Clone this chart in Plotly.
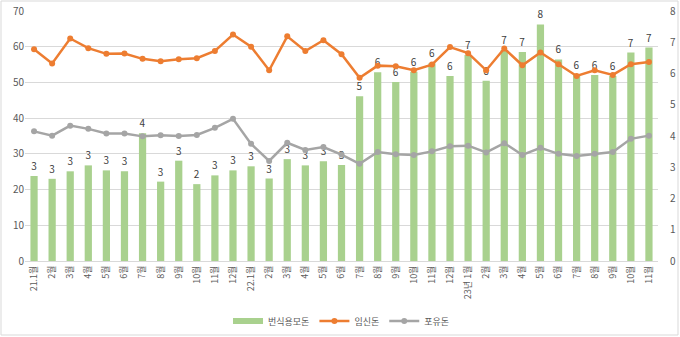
import plotly.graph_objects as go

categories = (["21.1월"] + [f"{m}월" for m in range(2, 13)] +
              ["22.1월"] + [f"{m}월" for m in range(2, 13)] +
              ["23년 1월"] + [f"{m}월" for m in range(2, 12)])

sows_breeding = [2.72, 2.63, 2.87, 3.06, 2.90, 2.87, 4.09, 2.54, 3.21, 2.46, 2.74, 2.90,
                 3.03, 2.64, 3.26, 3.06, 3.19, 3.07, 5.27, 6.04, 5.73, 6.06, 6.33, 5.92,
                 6.59, 5.77, 6.75, 6.69, 7.57, 6.45, 5.95, 5.95, 5.92, 6.67, 6.83]

pregnant = [59.3, 55.3, 62.3, 59.6, 58.0, 58.1, 56.6, 55.9, 56.5, 56.8, 58.8, 63.4,
            60.0, 53.4, 62.9, 58.8, 61.8, 57.9, 51.3, 54.7, 54.5, 53.4, 55.0, 59.9,
            58.2, 53.4, 59.5, 54.8, 58.4, 55.1, 51.8, 53.4, 52.1, 55.1, 55.7]

nursing = [36.3, 35.1, 37.9, 37.0, 35.7, 35.7, 34.9, 35.2, 35.0, 35.3, 37.3, 39.8,
           32.8, 28.0, 33.1, 31.1, 31.9, 29.8, 27.2, 30.5, 29.9, 29.7, 30.7, 32.1,
           32.3, 30.4, 33.0, 29.7, 31.7, 30.0, 29.4, 30.0, 30.5, 34.2, 35.1]

names = ["번식용모돈", "임신돈", "포유돈"]
colors = ["#A9D18E", "#ED7D31", "#A5A5A5"]

font_family = "Noto Sans CJK KR, Noto Sans, sans-serif"
xpos = list(range(len(categories)))

fig = go.Figure()
fig.add_trace(go.Bar(
    x=xpos, y=sows_breeding, name=names[0], marker_color=colors[0],
    yaxis="y", texttemplate="%{y:.0f}", textposition="outside", showlegend=False,
    textfont=dict(size=10, color="#404040", family=font_family), cliponaxis=False,
))
# legend entry for the bars, drawn as a wide green swatch
fig.add_trace(go.Scatter(
    x=[None], y=[None], name=names[0], mode="lines", yaxis="y",
    line=dict(color=colors[0], width=6),
))
fig.add_trace(go.Scatter(
    x=xpos, y=pregnant, name=names[1], mode="lines+markers", yaxis="y2",
    line=dict(color=colors[1], width=2.5), marker=dict(size=6, color=colors[1]),
))
fig.add_trace(go.Scatter(
    x=xpos, y=nursing, name=names[2], mode="lines+markers", yaxis="y2",
    line=dict(color=colors[2], width=2.5), marker=dict(size=6, color=colors[2]),
))

pw, ph = 633, 250
ml, mt = 25, 11
fig.update_layout(
    template="none",
    width=680, height=337,
    margin=dict(l=ml, r=680 - ml - pw, t=mt, b=337 - mt - ph, autoexpand=False),
    paper_bgcolor="white", plot_bgcolor="white",
    font=dict(family=font_family, color="#595959", size=10),
    bargap=0.6,
    showlegend=True,
    legend=dict(orientation="h", x=0.5, xanchor="center",
                yref="container", y=1 - 321 / 337, yanchor="middle",
                font=dict(size=9, color="#595959"), itemwidth=30, traceorder="normal",
                tracegroupgap=0, bgcolor="rgba(0,0,0,0)"),
    xaxis=dict(tickmode="array", tickvals=xpos, ticktext=categories, automargin=False,
               tickangle=-90, showgrid=False, showline=True, zeroline=False,
               linecolor="#D9D9D9", ticks="", tickfont=dict(size=9, color="#595959"),
               range=[-0.5, len(categories) - 0.5]),
    yaxis=dict(side="right", range=[0, 8], dtick=1, showgrid=False, zeroline=False,
               automargin=False, ticks="", showline=False,
               tickfont=dict(size=10, color="#595959"), ticklabelstandoff=11),
    yaxis2=dict(side="left", overlaying="y", range=[0, 70], dtick=10, showgrid=True,
                automargin=False, ticks="", showline=False,
                gridcolor="#D9D9D9", gridwidth=1, zeroline=False,
                tickfont=dict(size=10, color="#595959")),
    shapes=[dict(type="rect", xref="paper", yref="paper",
                 x0=-(ml - 1) / pw, x1=(678 - ml) / pw,
                 y0=(mt + ph - 335) / ph, y1=(mt + ph - 1) / ph,
                 line=dict(color="#D9D9D9", width=1), fillcolor="rgba(0,0,0,0)",
                 layer="below")],
)

fig.write_html("out.html")
